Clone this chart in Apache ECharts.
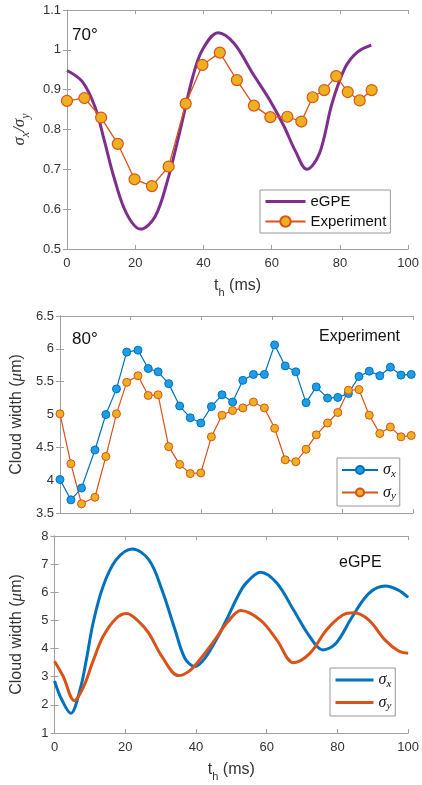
<!DOCTYPE html>
<html>
<head>
<meta charset="utf-8">
<script src="https://cdn.jsdelivr.net/npm/echarts@6/dist/echarts.min.js"></script>
<style>
  html, body { margin: 0; padding: 0; background: #fff; }
  #chart { width: 422px; height: 785px; }
</style>
</head>
<body>
<div id="chart"></div>
<script>
// panel 1: 70 deg, ratio sigma_x / sigma_y
const gpe70T = [0, 4.5, 8.2, 10.9, 13.7, 17.4, 21.6, 25.8, 29.5, 33.2, 36.9, 39.7, 44.3, 49, 54.5, 59.5, 63.5, 67, 70.3, 74, 77.7, 81.5, 85.2, 89.2]
const gpe70Ratio = [0.948, 0.92, 0.857, 0.774, 0.682, 0.59, 0.55, 0.581, 0.673, 0.799, 0.933, 1.0, 1.043, 1.016, 0.94, 0.873, 0.81, 0.745, 0.70, 0.74, 0.866, 0.955, 0.995, 1.012]
const exp70T = [0, 5.1, 10, 14.9, 19.8, 24.9, 29.8, 34.8, 39.7, 44.8, 49.8, 54.8, 59.6, 64.6, 68.7, 72, 75.4, 78.9, 82.3, 85.8, 89.3]
const exp70Ratio = [0.872, 0.879, 0.830, 0.764, 0.675, 0.658, 0.707, 0.865, 0.962, 0.993, 0.924, 0.860, 0.831, 0.832, 0.820, 0.881, 0.899, 0.934, 0.894, 0.873, 0.899]

// panel 2: 80 deg, experiment
const exp80T = [0, 3.1, 6.1, 9.9, 13, 16, 18.9, 22.1, 25, 27.8, 30.8, 33.9, 36.9, 39.9, 42.9, 45.9, 48.9, 51.8, 54.8, 57.9, 60.8, 63.8, 66.8, 69.7, 72.6, 75.8, 78.7, 81.7, 84.7, 87.6, 90.6, 93.6, 96.6, 99.5]
const exp80Sx = [4.01, 3.70, 3.88, 4.46, 5.0, 5.39, 5.95, 5.98, 5.70, 5.65, 5.47, 5.13, 4.95, 4.87, 5.12, 5.30, 5.19, 5.52, 5.61, 5.61, 6.06, 5.74, 5.65, 5.18, 5.42, 5.25, 5.26, 5.32, 5.58, 5.66, 5.59, 5.72, 5.60, 5.61]
const exp80Sy = [5.01, 4.25, 3.64, 3.74, 4.36, 5.01, 5.49, 5.59, 5.29, 5.30, 4.51, 4.24, 4.10, 4.11, 4.66, 4.99, 5.06, 5.10, 5.19, 5.10, 4.79, 4.31, 4.28, 4.47, 4.69, 4.87, 5.03, 5.37, 5.38, 4.99, 4.71, 4.81, 4.66, 4.68]

// panel 3: 80 deg, eGPE
const sim80SxT = [0, 2, 4.6, 7.2, 9, 10.9, 13.7, 17.4, 22, 26.7, 30.4, 34.1, 36.9, 39.7, 42.5, 46.2, 49, 51.8, 54, 58.3, 62.9, 67.6, 72.2, 75.9, 79.6, 84.2, 88.9, 93.5, 97.2, 100]
const sim80Sx = [2.85, 2.2, 1.70, 2.53, 3.6, 4.9, 6.2, 7.15, 7.54, 7.15, 6.08, 4.66, 3.65, 3.36, 3.65, 4.42, 5.12, 5.85, 6.3, 6.71, 6.32, 5.37, 4.42, 3.95, 4.19, 5.13, 5.96, 6.22, 6.08, 5.82]
const sim80SyT = [0, 2.5, 5.6, 8.2, 11, 13.7, 17.4, 20.4, 23.9, 26.7, 30.4, 35.1, 37.9, 40.6, 45.3, 49, 52.7, 58.3, 62.9, 67.6, 72.2, 76.9, 81.5, 84.7, 88.9, 93.5, 97.2, 100]
const sim80Sy = [3.55, 3.0, 2.15, 2.64, 3.59, 4.42, 5.07, 5.25, 4.95, 4.54, 3.71, 3.04, 3.18, 3.53, 4.30, 4.95, 5.35, 5.0, 4.30, 3.50, 3.83, 4.66, 5.19, 5.27, 5.01, 4.30, 3.92, 3.83]

const xTicks = { min: 0, max: 100, interval: 20 }

const zip = (xs, ys) => xs.map((x, i) => [x, ys[i]])

const FONT = 'Liberation Sans'
const axisColor = '#a0a0a0'
const labelColor = '#333'

const grids = [
  { left: 54, top: 10, width: 359, height: 239 },
  { left: 54, top: 316, width: 359, height: 197 },
  { left: 54, top: 536, width: 359, height: 197 }
]

const yRanges = [
  { min: 0.5, max: 1.1, interval: 0.1 },
  { min: 3.5, max: 6.5, interval: 0.5 },
  { min: 1, max: 8, interval: 1 }
]

const nameRich = {
  a: { fontFamily: FONT, fontSize: 16, color: labelColor, lineHeight: 20 },
  s: { fontFamily: FONT, fontSize: 11, color: labelColor, lineHeight: 12, padding: [14, 0, 0, 0] },
  i: { fontFamily: 'Liberation Serif', fontStyle: 'italic', fontSize: 17, color: labelColor, lineHeight: 20 },
  si: { fontFamily: 'Liberation Serif', fontStyle: 'italic', fontSize: 12, color: labelColor, lineHeight: 12, padding: [12, 0, 0, 0] }
}

function baseAxis(extra) {
  return Object.assign({
    type: 'value',
    axisLine: { show: true, lineStyle: { color: axisColor, width: 1 } },
    axisTick: { show: true, inside: true, length: 4, lineStyle: { color: axisColor } },
    splitLine: { show: false },
    axisLabel: { fontFamily: FONT, fontSize: 13, color: labelColor }
  }, extra)
}

const xAxis = []
const yAxis = []
grids.forEach((g, i) => {
  const showX = i !== 1
  xAxis.push(baseAxis(Object.assign({
    gridIndex: i,
    position: 'bottom',
    axisLabel: { show: showX, fontFamily: FONT, fontSize: 13, color: labelColor, margin: 8 },
    name: showX ? '{a|t}{s|h}{a| (ms)}' : '',
    nameLocation: 'middle',
    nameGap: 27,
    nameTextStyle: { rich: nameRich }
  }, xTicks)))
  xAxis.push(baseAxis(Object.assign({
    gridIndex: i,
    position: 'top',
    axisLabel: { show: false }
  }, xTicks)))
})

const yNames = [
  '{i|σ}{si|x}{i|/σ}{si|y}',
  '{a|Cloud width (}{i|μ}{a|m)}',
  '{a|Cloud width (}{i|μ}{a|m)}'
]
const yGaps = [35, 28, 28]

grids.forEach((g, i) => {
  yAxis.push(baseAxis(Object.assign({
    gridIndex: i,
    position: 'left',
    name: yNames[i],
    nameLocation: 'middle',
    nameGap: yGaps[i],
    nameRotate: 90,
    nameTextStyle: { rich: nameRich },
    axisLabel: { fontFamily: FONT, fontSize: 13, color: labelColor, margin: 6 }
  }, yRanges[i])))
  yAxis.push(baseAxis(Object.assign({
    gridIndex: i,
    position: 'right',
    axisLabel: { show: false }
  }, yRanges[i])))
})

const purple = '#7E2F8E'
const matBlue = '#0072BD'
const matOrange = '#D95319'
const matYellow = '#EDB120'
const lightBlue = '#1E9CE6'

const legendRich = {
  t: { fontFamily: FONT, fontSize: 15, color: '#111' },
  i: { fontFamily: 'Liberation Serif', fontStyle: 'italic', fontSize: 16, color: '#111' },
  s: { fontFamily: 'Liberation Serif', fontStyle: 'italic', fontSize: 11, color: '#111', padding: [8, 0, 0, 0] }
}

const legendLabels = {
  gpe70: '{t|eGPE}',
  exp70: '{t|Experiment}',
  expSx: '{i|σ}{s|x}',
  expSy: '{i|σ}{s|y}',
  simSx: '{i|σ}{s|x}',
  simSy: '{i|σ}{s|y}'
}

// line-only entries: hide the marker the legend adds by default
const lineOnly = name => ({ name, itemStyle: { opacity: 0 }, lineStyle: { width: 3 } })

function legendBox(data, left, top, itemWidth, itemHeight, gap) {
  return {
    data,
    orient: 'vertical',
    left,
    top,
    itemWidth,
    itemHeight,
    itemGap: gap,
    padding: [4, 4, 4, 4],
    borderColor: '#999',
    borderWidth: 1,
    borderRadius: 0,
    backgroundColor: '#fff',
    selectedMode: false,
    formatter: name => legendLabels[name],
    textStyle: { rich: legendRich }
  }
}

const option = {
  animation: false,
  backgroundColor: '#fff',
  grid: grids,
  xAxis,
  yAxis,
  legend: [
    legendBox([lineOnly('gpe70'), 'exp70'], 260, 190, 40, 13, 5),
    legendBox(['expSx', 'expSy'], 337, 458, 36, 10, 5),
    legendBox([lineOnly('simSx'), lineOnly('simSy')], 330, 668, 38, 11, 5)
  ],
  graphic: [
    { type: 'text', left: 72, top: 27, style: { text: '70°', font: '17px "Liberation Sans"', fill: '#111' } },
    { type: 'text', left: 72, top: 331, style: { text: '80°', font: '17px "Liberation Sans"', fill: '#111' } },
    { type: 'text', right: 22, top: 329, style: { text: 'Experiment', font: '16px "Liberation Sans"', fill: '#111' } },
    { type: 'text', left: 339, top: 555, style: { text: 'eGPE', font: '16px "Liberation Sans"', fill: '#111' } }
  ],
  series: [
    {
      name: 'gpe70', type: 'line', xAxisIndex: 0, yAxisIndex: 0,
      smooth: 0.35, symbol: 'none',
      lineStyle: { color: purple, width: 3 }, itemStyle: { color: purple },
      data: zip(gpe70T, gpe70Ratio)
    },
    {
      name: 'exp70', type: 'line', xAxisIndex: 0, yAxisIndex: 0,
      symbol: 'circle', symbolSize: 11,
      lineStyle: { color: matOrange, width: 1.3 },
      itemStyle: { color: matYellow, borderColor: matOrange, borderWidth: 1.2 },
      data: zip(exp70T, exp70Ratio)
    },
    {
      name: 'expSx', type: 'line', xAxisIndex: 2, yAxisIndex: 2,
      symbol: 'circle', symbolSize: 8,
      lineStyle: { color: matBlue, width: 1.2 },
      itemStyle: { color: lightBlue, borderColor: matBlue, borderWidth: 1 },
      data: zip(exp80T, exp80Sx)
    },
    {
      name: 'expSy', type: 'line', xAxisIndex: 2, yAxisIndex: 2,
      symbol: 'circle', symbolSize: 8,
      lineStyle: { color: matOrange, width: 1.2 },
      itemStyle: { color: matYellow, borderColor: matOrange, borderWidth: 1 },
      data: zip(exp80T, exp80Sy)
    },
    {
      name: 'simSx', type: 'line', xAxisIndex: 4, yAxisIndex: 4,
      smooth: 0.35, symbol: 'none',
      lineStyle: { color: matBlue, width: 3 }, itemStyle: { color: matBlue },
      data: zip(sim80SxT, sim80Sx)
    },
    {
      name: 'simSy', type: 'line', xAxisIndex: 4, yAxisIndex: 4,
      smooth: 0.35, symbol: 'none',
      lineStyle: { color: matOrange, width: 3 }, itemStyle: { color: matOrange },
      data: zip(sim80SyT, sim80Sy)
    }
  ]
}

const chart = echarts.init(document.getElementById('chart'), null, { renderer: 'canvas' })
chart.setOption(option)
</script>
</body>
</html>
